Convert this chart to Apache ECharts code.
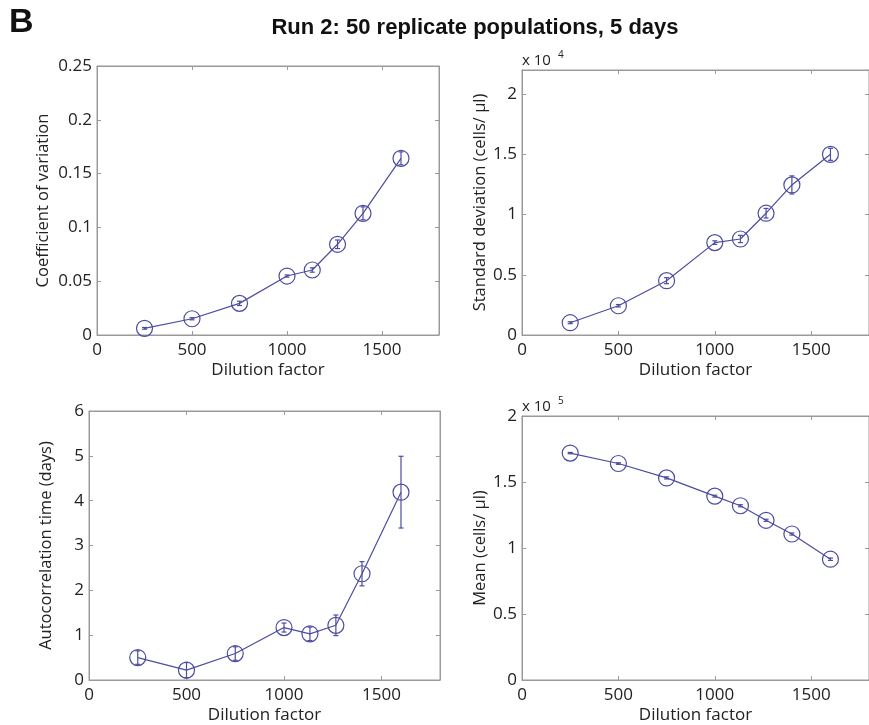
<!DOCTYPE html>
<html>
<head>
<meta charset="utf-8">
<script src="https://cdn.jsdelivr.net/npm/echarts@6/dist/echarts.min.js"></script>
<style>
html,body{margin:0;padding:0;background:#fff;}
#chart{width:869px;height:725px;}
</style>
</head>
<body>
<div id="chart"></div>
<script>
// ---- data ----
const dilution = [250, 500, 750, 1000, 1133, 1266, 1400, 1600];

const cvValues = [0.0062, 0.0151, 0.0294, 0.0548, 0.0604, 0.0843, 0.1131, 0.1642];
const cvErrors = [0.0008, 0.001, 0.002, 0.001, 0.002, 0.004, 0.006, 0.006];

const sdValues = [1020, 2430, 4510, 7670, 7970, 10110, 12460, 15000];   // cells/µl
const sdErrors = [80, 100, 250, 150, 300, 400, 750, 500];

const acValues = [0.50, 0.22, 0.59, 1.17, 1.03, 1.22, 2.37, 4.19];     // days
const acErrors = [0.15, 0.17, 0.15, 0.10, 0.15, 0.23, 0.27, 0.80];

const meanValues = [171900, 164000, 153100, 139300, 132000, 121000, 110600, 91500]; // cells/µl
const meanErrors = [500, 600, 800, 700, 800, 800, 800, 900];

const titleText = 'Run 2: 50 replicate populations, 5 days';
const panelLetter = 'B';
const xName = 'Dilution factor';
const yNames = ['Coefficient of variation', 'Standard deviation (cells/ \u00b5l)', 'Autocorrelation time (days)', 'Mean (cells/ \u00b5l)'];

// ---- styling ----
const LINE = '#4c4ca0';
const AXIS = '#9a9a9a';
const TXT = '#222';
const FONT = '"Open Sans", "Noto Sans", sans-serif';

const panels = [
  {grid:{left:97, top:66, width:342, height:269}, ymax:0.25, yint:0.05, fmt:v=>String(+v.toFixed(2)), vals:cvValues, errs:cvErrors, yName:yNames[0], yGap:45, showMax:true},
  {grid:{left:522, top:70, width:350, height:265}, ymax:22000, yint:5000, fmt:v=>String(v/1e4), vals:sdValues, errs:sdErrors, yName:yNames[1], yGap:25, showMax:false},
  {grid:{left:89, top:411, width:351, height:270}, ymax:6, yint:1, fmt:v=>String(v), vals:acValues, errs:acErrors, yName:yNames[2], yGap:34, showMax:true},
  {grid:{left:522, top:416, width:350, height:265}, ymax:200000, yint:50000, fmt:v=>String(v/1e5), vals:meanValues, errs:meanErrors, yName:yNames[3], yGap:25, showMax:true}
];

function tick(){ return {show:true, inside:true, length:4, lineStyle:{color:AXIS, width:1}}; }
function line(){ return {show:true, onZero:false, lineStyle:{color:AXIS, width:1}}; }

const grids = [], xAxes = [], yAxes = [], series = [];
panels.forEach((p, i) => {
  grids.push(Object.assign({show:true, borderColor:AXIS, borderWidth:1, backgroundColor:'#fff', containLabel:false}, p.grid));
  xAxes.push({
    type:'value', gridIndex:i, position:'bottom', min:0, max:1800, interval:500,
    axisLine:line(), axisTick:tick(), splitLine:{show:false},
    axisLabel:{color:TXT, fontSize:17, fontFamily:FONT, margin:7, showMaxLabel:false, formatter:v=>String(v)},
    name:xName, nameLocation:'middle', nameGap:27,
    nameTextStyle:{color:TXT, fontSize:17, fontFamily:FONT}
  });
  xAxes.push({
    type:'value', gridIndex:i, position:'top', min:0, max:1800, interval:500,
    axisLine:line(), axisTick:tick(), splitLine:{show:false},
    axisLabel:{show:false}
  });
  yAxes.push({
    type:'value', gridIndex:i, position:'left', min:0, max:p.ymax, interval:p.yint,
    axisLine:line(), axisTick:tick(), splitLine:{show:false},
    axisLabel:{color:TXT, fontSize:17, fontFamily:FONT, margin:5, formatter:p.fmt, showMaxLabel:p.showMax},
    name:p.yName, nameLocation:'middle', nameGap:p.yGap,
    nameTextStyle:{color:TXT, fontSize:16.5, fontFamily:FONT}
  });
  yAxes.push({
    type:'value', gridIndex:i, position:'right', min:0, max:p.ymax, interval:p.yint,
    axisLine:line(), axisTick:tick(), splitLine:{show:false},
    axisLabel:{show:false}
  });
  const lineData = dilution.map((x, k) => [x, p.vals[k]]);
  const errData = dilution.map((x, k) => [x, p.vals[k], p.errs[k]]);
  series.push({
    type:'line', xAxisIndex:2*i, yAxisIndex:2*i, data:lineData,
    symbol:'circle', symbolSize:16, showSymbol:true, silent:true,
    lineStyle:{color:LINE, width:1.2},
    itemStyle:{color:'rgba(255,255,255,0)', borderColor:LINE, borderWidth:1.2},
    z:3
  });
  series.push({
    type:'custom', xAxisIndex:2*i, yAxisIndex:2*i, data:errData, silent:true,
    encode:{x:0, y:1},
    renderItem:function(params, api){
      const x = api.value(0), y = api.value(1), e = api.value(2);
      const t = api.coord([x, y + e]), b = api.coord([x, y - e]);
      const c = 2.5;
      const st = {stroke:LINE, lineWidth:1.2};
      return {type:'group', children:[
        {type:'line', shape:{x1:t[0], y1:t[1], x2:b[0], y2:b[1]}, style:st},
        {type:'line', shape:{x1:t[0]-c, y1:t[1], x2:t[0]+c, y2:t[1]}, style:st},
        {type:'line', shape:{x1:b[0]-c, y1:b[1], x2:b[0]+c, y2:b[1]}, style:st}
      ]};
    },
    z:4
  });
});

const chart = echarts.init(document.getElementById('chart'), null, {renderer:'canvas'});
chart.setOption({
  backgroundColor:'#fff',
  animation:false,
  grid:grids, xAxis:xAxes, yAxis:yAxes, series:series,
  graphic:[
    {type:'text', x:9, y:6, style:{text:panelLetter, font:'bold 34px "Liberation Sans", Arial, sans-serif', fill:'#111'}},
    {type:'text', x:475, y:17, style:{text:titleText, textAlign:'center', font:'bold 22px "Liberation Sans Narrow", "Liberation Sans", Arial, sans-serif', fill:'#111'}},
    {type:'text', x:522, y:50, style:{text:'x 10{s|4}', font:'15px "Open Sans", sans-serif', fill:TXT, rich:{s:{fontSize:10, fontFamily:FONT, fill:TXT, verticalAlign:'top', padding:[0,0,12,7]}}}},
    {type:'text', x:522, y:396, style:{text:'x 10{s|5}', font:'15px "Open Sans", sans-serif', fill:TXT, rich:{s:{fontSize:10, fontFamily:FONT, fill:TXT, verticalAlign:'top', padding:[0,0,12,7]}}}}
  ]
});
</script>
</body>
</html>
